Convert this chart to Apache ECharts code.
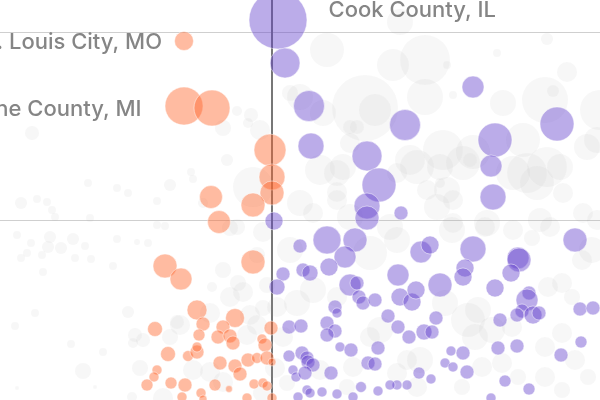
<!DOCTYPE html>
<html>
<head>
<meta charset="utf-8">
<script src="https://cdn.jsdelivr.net/npm/echarts@6/dist/echarts.min.js"></script>
<style>
  html, body { margin: 0; padding: 0; background: #fff; }
  #chart { width: 600px; height: 400px; }
</style>
</head>
<body>
<div id="chart"></div>
<script>
  // [x shift, y value, population] per county
  const otherCounties = [
    [12.8,38.6,169],[5.5,35.8,289],[12.1,34.3,256],[15.3,34.8,625],[17.5,34.3,16],[22.5,35.5,16],
    [27.5,36.9,36],[29.5,33.6,100],[9.3,30.0,1089],[15.3,31.1,324],[10.3,29.8,256],[18.1,31.3,16],
    [23.1,30.5,169],[27.3,30.8,529],[28.1,31.7,36],[32.8,29.8,400],[32.5,26.8,169],[5.1,29.5,169],
    [2.8,31.1,169],[7.8,28.1,49],[8.5,28.1,49],[17.1,25.8,400],[14.5,24.1,289],[19.1,24.5,289],
    [19.8,24.8,49],[25.1,26.8,289],[25.5,23.5,400],[26.5,22.5,289],[27.5,24.1,400],[29.1,21.5,100],
    [31.1,19.5,100],[4.8,23.8,225],[6.5,20.8,100],[2.8,20.5,169],[7.8,26.5,100],[16.8,22.5,25],
    [18.1,20.8,100],[16.5,20.1,169],[1.8,31.5,64],[6.5,23.5,169],[-3.5,29.7,25],[-2.1,29.3,49],
    [-2.4,28.5,25],[-1.2,27.8,100],[-4.9,28.0,64],[-24.0,27.5,49],[-4.5,24.8,36],[-18.4,22.5,16],
    [-15.5,22.0,16],[-14.4,21.5,16],[-10.2,22.3,36],[-11.5,20.7,16],[-8.1,23.6,16],[-7.9,22.9,16],
    [-25.1,20.5,36],[-23.5,20.9,16],[-22.5,20.6,16],[-22.0,19.8,16],[-18.2,19.0,16],[-1.9,22.1,400],
    [-6.9,20.5,25],[-25.5,17.3,16],[-24.1,16.5,16],[-22.2,17.1,36],[-21.1,16.0,36],[-19.9,16.9,36],
    [-18.7,16.2,16],[-22.4,16.1,36],[-23.0,15.3,16],[-25.1,15.0,16],[-19.7,15.0,16],[-18.1,14.9,16],
    [-15.5,16.9,16],[-13.5,16.6,9],[-12.4,16.5,16],[-11.5,18.3,16],[-10.7,18.2,16],[-3.5,18.1,64],
    [-15.9,14.2,16],[-21.7,19.1,16],[-24.5,15.5,16],[-22.9,13.6,16],[-23.7,9.5,16],[-25.7,8.2,16],
    [-14.4,9.6,36],[-20.1,6.4,16],[-16.9,5.6,16],[-13.9,6.5,25],[-18.9,3.7,64],[-25.5,2.0,4],
    [-17.7,2.1,4],[-14.0,1.1,25],[-4.9,13.8,64],[-4.2,11.1,100],[-2.9,11.6,100],[-6.0,12.1,25],
    [-6.2,9.5,100],[-9.2,8.3,100],[-10.2,7.1,64],[-9.5,8.6,49],[-2.2,9.3,100],[-1.5,8.3,100],
    [-2.5,7.3,100],[-7.9,3.8,100],[-6.2,3.6,100],[-4.9,2.6,100],[-10.9,1.0,100],[-13.2,4.0,64],
    [-13.7,7.3,49],[-12.9,6.8,49],[-3.4,12.5,64],[-0.9,10.0,64],[-0.5,12.3,64],[-4.2,18.0,64],
    [-0.9,17.6,100],[-1.5,15.3,64],[7.1,24.1,169],[13.8,24.8,225],[16.8,24.1,169],[20.1,25.6,289],
    [24.1,23.5,289],[28.8,24.1,169],[31.5,26.1,169],[17.5,21.8,169],[15.5,21.8,100],[12.5,23.5,100],
    [7.8,19.1,169],[11.8,18.1,169],[18.1,18.5,100],[24.1,17.8,100],[26.8,18.8,144],[32.5,18.8,100],
    [4.1,19.5,100],[6.5,21.6,100],[21.5,18.5,169],[1.8,15.8,169],[9.8,15.5,289],[12.5,16.8,169],
    [4.1,11.8,169],[6.5,11.1,100],[2.5,10.5,169],[10.8,7.8,169],[9.8,7.1,100],[8.1,4.1,100],
    [4.8,3.8,100],[13.5,4.8,100],[14.8,4.8,169],[12.5,3.5,100],[1.1,7.1,100],[0.5,10.1,100],
    [14.5,2.1,100],[7.5,2.1,64],[20.6,9.8,169],[19.6,8.8,289],[22.0,7.8,169],[24.0,8.1,100],
    [27.6,12.1,100],[29.0,12.5,100],[30.0,11.1,64],[31.0,14.8,100],[32.0,15.8,169],[27.8,18.1,100],
    [26.0,17.0,64],[18.0,17.8,169],[21.3,18.1,100],[27.3,6.1,100],[29.0,7.5,100],[30.3,4.8,100],
    [31.6,3.1,64],[27.3,3.1,100],[24.6,3.1,64],[21.0,4.1,100],[19.0,2.1,64],[29.0,1.8,64],
    [23.0,4.5,100],[20.3,7.1,169],[17.3,10.5,169],[0.3,4.0,100],[-1.0,1.5,81],[1.5,2.5,64]
  ];

  const leftCounties = [
    [-8.8,36.7,90,'St. Louis City, MO'],[-8.8,30.2,361,'Wayne County, MI'],[-6.0,30.0,324],
    [-0.2,25.8,256],[0,23.1,169],[0,21.5,144],[-6.1,21.1,132],[-1.9,20.3,144],[-5.3,18.6,132],
    [-10.7,14.2,144],[-9.1,12.9,121],[-1.9,14.6,144],[-7.5,9.8,100],[-6.9,8.4,49],[-11.7,7.9,56],
    [-3.7,9.0,90],[-4.9,8.1,49],[-5.4,7.1,49],[-4.2,7.2,49],[-3.9,6.5,49],[-7.3,7.3,36],
    [-0.1,8.0,49],[-1.0,6.9,25],[-0.7,6.3,49],[-10.4,5.4,56],[-8.4,5.2,30],[-7.5,5.6,49],
    [-7.5,6.1,25],[-5.2,4.5,49],[-3.7,4.2,49],[-3.2,3.4,49],[-2.4,4.8,49],[-1.5,5.0,30],
    [-0.5,5.0,49],[0,4.6,16],[-11.5,3.8,25],[-11.8,3.1,25],[-12.5,2.3,36],[-10.1,2.5,36],
    [-8.7,2.3,49],[-5.7,2.3,36],[-4.3,1.9,12],[-1.8,2.4,25],[-0.9,2.5,25],[-0.5,2.2,25],
    [-9.0,1.1,25],[-7.1,1.5,25],[0,1.0,25],[-2.5,1.0,25],[-6.9,0.9,16]
  ];

  const rightCounties = [
    [0.6,38.8,841,'Cook County, IL'],[1.3,34.5,225],[3.7,30.2,240],[3.9,26.2,169],[9.5,25.2,225],
    [10.7,22.3,289],[9.5,20.2,169],[9.5,19.0,144],[12.9,19.5,49],[13.3,28.3,240],[20.1,32.1,121],
    [22.3,26.8,289],[21.9,24.2,121],[22.1,21.1,169],[28.5,28.4,289],[0.2,18.7,81],[30.3,16.8,144],
    [5.5,16.8,196],[8.3,16.8,144],[7.3,15.1,121],[2.8,16.2,49],[14.9,15.6,121],[15.8,16.3,81],
    [20.1,15.9,169],[24.6,15.0,121],[5.7,14.1,81],[3.1,13.8,49],[3.8,13.5,64],[1.1,13.4,49],
    [0.5,12.1,64],[7.8,12.3,121],[8.5,12.5,49],[8.7,11.1,49],[9.1,10.5,49],[10.3,10.8,49],
    [12.6,13.3,121],[12.8,11.1,81],[14.0,10.6,81],[14.4,11.8,81],[19.3,14.0,81],[19.1,13.1,81],
    [16.8,12.3,144],[24.7,14.8,144],[23.9,13.5,81],[22.3,12.0,81],[25.7,11.5,49],[25.5,10.8,121],
    [25.0,9.7,49],[26.1,9.3,81],[26.7,9.5,49],[30.8,9.9,49],[32.1,10.0,49],[16.4,9.0,49],
    [6.3,10.1,49],[6.5,9.5,25],[11.6,9.2,49],[12.6,8.1,49],[13.7,7.1,49],[15.2,7.6,64],
    [16.0,7.6,49],[5.5,8.5,49],[6.3,7.7,49],[5.5,7.3,49],[1.7,8.1,49],[2.9,8.2,49],
    [6.8,6.1,25],[7.9,5.8,49],[10.6,6.0,49],[9.6,4.5,49],[10.3,4.4,49],[1.7,5.2,36],
    [3.0,5.5,49],[3.5,5.0,49],[3.6,4.6,49],[4.1,4.3,49],[2.1,3.8,25],[2.4,3.1,25],
    [3.3,3.5,49],[5.9,3.5,49],[8.9,2.1,30],[14.7,3.5,36],[13.5,2.3,25],[12.5,2.3,25],
    [11.8,2.3,25],[3.5,1.8,25],[3.8,1.5,25],[5.0,1.6,25],[2.6,1.1,25],[6.5,1.4,25],
    [8.1,1.1,25],[10.6,1.7,25],[15.9,2.9,25],[17.9,5.7,25],[19.1,5.5,49],[17.3,4.5,25],
    [18.1,4.1,25],[19.5,3.6,49],[22.6,6.0,49],[24.5,6.2,49],[28.9,5.3,49],[30.9,6.6,36],
    [23.3,2.7,36],[25.7,1.9,36],[21.9,1.0,25],[22.8,8.8,49],[24.5,9.3,49]
  ];

  // label placement for the named counties
  const calloutPlace = {
    'Cook County, IL': { position: 'right', distance: 21, offset: [0, -10] },
    'St. Louis City, MO': { position: 'left', distance: 12, offset: [0, 1] },
    'Wayne County, MI': { position: 'left', distance: 23, offset: [0, 3] }
  }

  function toData(list) {
    return list.map(p => {
      if (!p[3]) return [p[0], p[1], p[2]]
      return {
        name: p[3],
        value: [p[0], p[1], p[2]],
        label: Object.assign({
          show: true,
          formatter: '{b}',
          color: '#666',
          fontFamily: 'Inter',
          fontWeight: 500,
          fontSize: 22
        }, calloutPlace[p[3]])
      }
    })
  }

  const bubbleSize = v => Math.sqrt(v[2]) * 2

  const chart = echarts.init(document.getElementById('chart'))
  chart.setOption({
    animation: false,
    grid: { left: 0, right: 0, top: -156, bottom: -8, outerBoundsMode: 'none' },
    xAxis: {
      type: 'value',
      min: -27.2,
      max: 32.8,
      show: false
    },
    yAxis: {
      type: 'value',
      min: 0,
      max: 56.4,
      interval: 18.8,
      axisLine: { show: true, onZero: true, lineStyle: { color: '#777', width: 2 } },
      axisTick: { show: false },
      axisLabel: { show: false },
      splitLine: { lineStyle: { color: '#cfcfcf', width: 1 } }
    },
    series: [
      {
        type: 'scatter',
        silent: true,
        symbolSize: bubbleSize,
        itemStyle: { color: 'rgba(154,154,154,0.1)' },
        data: toData(otherCounties)
      },
      {
        type: 'scatter',
        silent: true,
        symbolSize: bubbleSize,
        itemStyle: {
          color: 'rgba(255,100,40,0.55)',
          borderColor: 'rgba(255,255,255,0.6)',
          borderWidth: 1
        },
        data: toData(leftCounties)
      },
      {
        type: 'scatter',
        silent: true,
        symbolSize: bubbleSize,
        itemStyle: {
          color: 'rgba(100,66,205,0.55)',
          borderColor: 'rgba(255,255,255,0.6)',
          borderWidth: 1
        },
        data: toData(rightCounties)
      }
    ]
  })
</script>
</body>
</html>
